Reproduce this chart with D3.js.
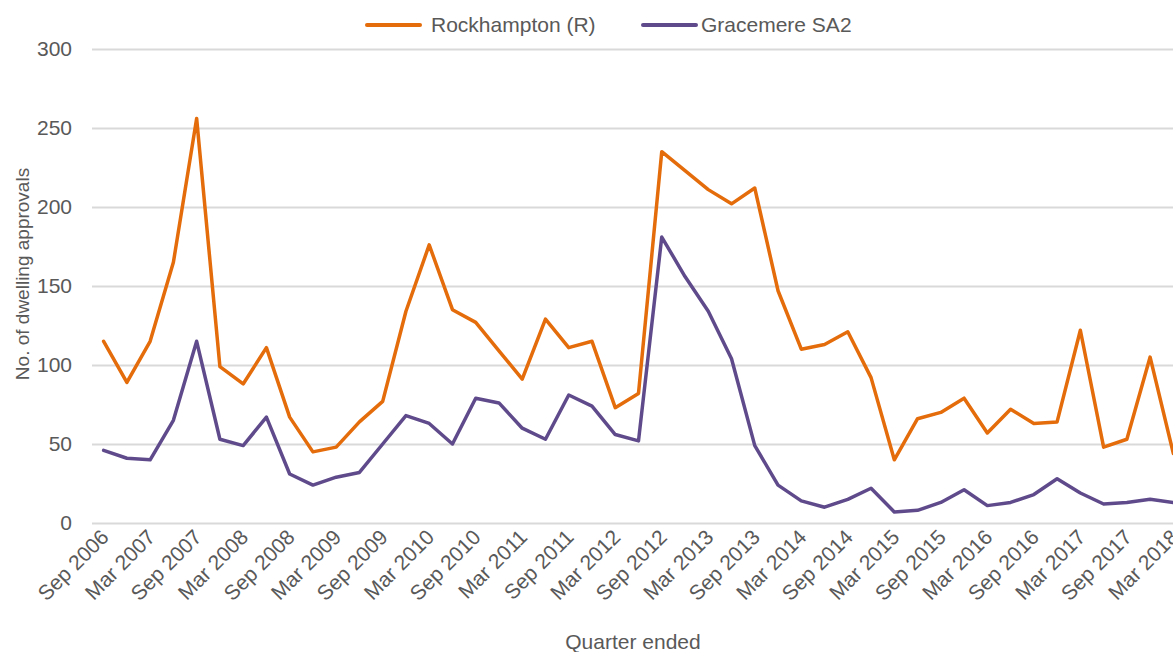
<!DOCTYPE html>
<html>
<head>
<meta charset="utf-8">
<script src="https://cdn.jsdelivr.net/npm/d3@7"></script>
<style>
  html, body { margin: 0; padding: 0; background: #fff; overflow: hidden; }
  svg { display: block; font-family: "Liberation Sans", Arial, sans-serif; }
</style>
</head>
<body>
<div id="chart"></div>
<script>
// quarters, Sep 2006 .. Mar 2018
const quarters = [
  "Sep 2006", "Dec 2006", "Mar 2007", "Jun 2007", "Sep 2007", "Dec 2007",
  "Mar 2008", "Jun 2008", "Sep 2008", "Dec 2008", "Mar 2009", "Jun 2009",
  "Sep 2009", "Dec 2009", "Mar 2010", "Jun 2010", "Sep 2010", "Dec 2010",
  "Mar 2011", "Jun 2011", "Sep 2011", "Dec 2011", "Mar 2012", "Jun 2012",
  "Sep 2012", "Dec 2012", "Mar 2013", "Jun 2013", "Sep 2013", "Dec 2013",
  "Mar 2014", "Jun 2014", "Sep 2014", "Dec 2014", "Mar 2015", "Jun 2015",
  "Sep 2015", "Dec 2015", "Mar 2016", "Jun 2016", "Sep 2016", "Dec 2016",
  "Mar 2017", "Jun 2017", "Sep 2017", "Dec 2017", "Mar 2018"
];

// only every second quarter gets a label
const tickLabels = quarters.filter((q, i) => i % 2 === 0);

const rockhampton = [
  115, 89, 115, 165, 256, 99, 88, 111, 67, 45, 48, 64,
  77, 134, 176, 135, 127, 109, 91, 129, 111, 115, 73, 82,
  235, 223, 211, 202, 212, 147, 110, 113, 121, 92, 40, 66,
  70, 79, 57, 72, 63, 64, 122, 48, 53, 105, 44
];

const gracemere = [
  46, 41, 40, 65, 115, 53, 49, 67, 31, 24, 29, 32,
  50, 68, 63, 50, 79, 76, 60, 53, 81, 74, 56, 52,
  181, 156, 134, 104, 49, 24, 14, 10, 15, 22, 7, 8,
  13, 21, 11, 13, 18, 28, 19, 12, 13, 15, 13
];

const yTicks = [0, 50, 100, 150, 200, 250, 300];

const series = [
  { name: "Rockhampton (R)", values: rockhampton, color: "#E46C0A" },
  { name: "Gracemere SA2", values: gracemere, color: "#5F4B8B" }
];

const width = 1173, height = 652;
const margin = { top: 49, left: 92, bottom: 129 };
const plotRight = 1185; // plot runs a little past the visible edge
const textColor = "#595959";

const svg = d3.select("#chart").append("svg")
    .attr("width", width)
    .attr("height", height);

const x = d3.scaleBand()
    .domain(quarters)
    .range([margin.left, plotRight]);

const y = d3.scaleLinear()
    .domain([0, 300])
    .range([height - margin.bottom, margin.top]);

const cx = d => x(d) + x.bandwidth() / 2;

// gridlines + y labels
const yAxis = svg.append("g")
    .attr("transform", `translate(${margin.left},0)`)
    .call(d3.axisLeft(y).tickValues(yTicks).tickSize(-(plotRight - margin.left)).tickPadding(20));

yAxis.select(".domain").remove();
yAxis.selectAll(".tick line").attr("stroke", "#d9d9d9").attr("stroke-width", 2);
yAxis.selectAll(".tick text")
    .attr("fill", textColor)
    .style("font-size", "21px")
    .style("font-family", "'Liberation Sans', Arial, sans-serif");

// x labels
const xAxis = svg.append("g")
    .attr("transform", `translate(0,${height - margin.bottom})`);

xAxis.selectAll("text")
    .data(tickLabels)
    .enter()
    .append("text")
    .attr("transform", d => `translate(${cx(d) - 4},${5}) rotate(-45)`)
    .attr("text-anchor", "end")
    .attr("dy", "0.7em")
    .attr("fill", textColor)
    .style("font-size", "21px")
    .text(d => d);

// lines
const line = d3.line()
    .x((d, i) => cx(quarters[i]))
    .y(d => y(d));

svg.append("g").selectAll("path")
    .data(series)
    .enter()
    .append("path")
    .attr("d", d => line(d.values))
    .attr("fill", "none")
    .attr("stroke", d => d.color)
    .attr("stroke-width", 3.5)
    .attr("stroke-linejoin", "round")
    .attr("stroke-linecap", "round");

// legend
const legendX = [367, 643];
const legend = svg.append("g").selectAll("g")
    .data(series)
    .enter()
    .append("g")
    .attr("transform", (d, i) => `translate(${legendX[i]},25)`);

legend.append("line")
    .attr("x1", 0).attr("x2", 53)
    .attr("stroke", d => d.color)
    .attr("stroke-width", 4)
    .attr("stroke-linecap", "round");

legend.append("text")
    .attr("x", (d, i) => i === 0 ? 64 : 58)
    .attr("dy", "0.35em")
    .attr("fill", textColor)
    .style("font-size", "21px")
    .text(d => d.name);

// axis titles
svg.append("text")
    .attr("transform", `translate(29,274) rotate(-90)`)
    .attr("text-anchor", "middle")
    .attr("fill", textColor)
    .style("font-size", "19px")
    .text("No. of dwelling approvals");

svg.append("text")
    .attr("x", 633)
    .attr("y", 649)
    .attr("text-anchor", "middle")
    .attr("fill", textColor)
    .style("font-size", "21px")
    .text("Quarter ended");
</script>
</body>
</html>
